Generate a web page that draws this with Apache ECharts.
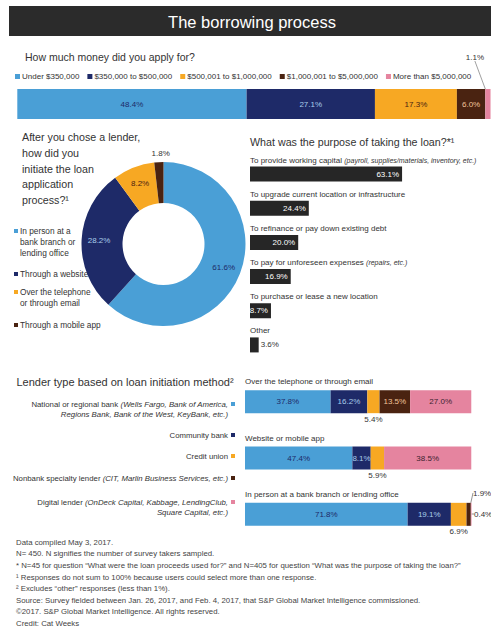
<!DOCTYPE html>
<html><head><meta charset="utf-8">
<script src="https://cdn.jsdelivr.net/npm/echarts@6/dist/echarts.min.js"></script>
<style>html,body{margin:0;padding:0;background:#fff}#c{width:491px;height:633px}</style>
</head><body><div id="c"></div>
<script>
// ---------------- data ----------------
const amountCategories = ['Under $350,000', '$350,000 to $500,000', '$500,001 to $1,000,000', '$1,000,001 to $5,000,000', 'More than $5,000,000'];
const amountValues = [48.4, 27.1, 17.3, 6.0, 1.1];

const initiationMethods = ['In person at a bank branch or lending office', 'Through a website', 'Over the telephone or through email', 'Through a mobile app'];
const initiationLegendLines = [['In person at a', 'bank branch or', 'lending office'], ['Through a website'], ['Over the telephone', 'or through email'], ['Through a mobile app']];
const initiationValues = [61.6, 28.2, 8.2, 1.8];

const purposeCategories = ['To provide working capital (payroll, supplies/materials, inventory, etc.)', 'To upgrade current location or infrastructure', 'To refinance or pay down existing debt', 'To pay for unforeseen expenses (repairs, etc.)', 'To purchase or lease a new location', 'Other'];
const purposeValues = [63.1, 24.4, 20.0, 16.9, 8.7, 3.6];

const methodCategories = ['Over the telephone or through email', 'Website or mobile app', 'In person at a bank branch or lending office'];
const lenderTypes = ['National or regional bank', 'Community bank', 'Credit union', 'Nonbank specialty lender', 'Digital lender'];
const lenderLabelLines = [
  ['National or regional bank |(Wells Fargo, Bank of America,', '|Regions Bank, Bank of the West, KeyBank, etc.)'],
  ['Community bank'],
  ['Credit union'],
  ['Nonbank specialty lender |(CIT, Marlin Business Services, etc.)'],
  ['Digital lender |(OnDeck Capital, Kabbage, LendingClub,', '|Square Capital, etc.)']
];
const nationalBank = [37.8, 47.4, 71.8];
const communityBank = [16.2, 8.1, 19.1];
const creditUnion = [5.4, 5.9, 6.9];
const nonbankLender = [13.5, 0, 1.9];
const digitalLender = [27.0, 38.5, 0.4];

const footnotes = [
  'Data compiled May 3, 2017.',
  'N= 450. N signifies the number of survey takers sampled.',
  '* N=45 for question \u201cWhat were the loan proceeds used for?\u201d and N=405 for question \u201cWhat was the purpose of taking the loan?\u201d',
  '\u00b9 Responses do not sum to 100% because users could select more than one response.',
  '\u00b2 Excludes \u201cother\u201d responses (less than 1%).',
  'Source: Survey fielded between Jan. 26, 2017, and Feb. 4, 2017, that S&P Global Market Intelligence commissioned.',
  '\u00a92017. S&P Global Market Intelligence. All rights reserved.',
  'Credit: Cat Weeks'
];

// ---------------- style ----------------
const FONT = '"Liberation Sans", Arial, sans-serif';
const COLORS = ['#4a9fd6', '#1e2a68', '#f7a823', '#4a2311', '#e5849f'];
const ON_COLORS = ['#1e2a68', '#a9cdea', '#4a2311', '#f3c49a', '#3b2330'];
const TXT = '#333';
const VAL = 8;
const pct = p => (p.value > 0 ? p.value.toFixed(1) + '%' : '');

function txt(x, y, text, size, extra) {
  return {
    type: 'text', x: x, y: y,
    style: Object.assign({ text: text, fontSize: size, fontFamily: FONT, fill: TXT,
      align: 'left', verticalAlign: 'middle', textAlign: 'left', textVerticalAlign: 'middle' }, extra || {})
  };
}

const graphics = [];
graphics.push({ type: 'rect', shape: { x: 9, y: 6, width: 482, height: 30 }, style: { fill: '#2b2b2b' } });
graphics.push(txt(252, 22, 'The borrowing process', 16.5, { fill: '#fff', align: 'center', textAlign: 'center' }));
graphics.push(txt(25, 57, 'How much money did you apply for?', 10.5));
graphics.push(txt(22, 129.5, 'After you chose a lender,\nhow did you\ninitiate the loan\napplication\nprocess?\u00b9', 10.7, { verticalAlign: 'top', textVerticalAlign: 'top', lineHeight: 15.7 }));
graphics.push(txt(250, 142, 'What was the purpose of taking the loan?*\u00b9', 10.7));
graphics.push(txt(16.5, 382, 'Lender type based on loan initiation method\u00b2', 11));

// donut legend
const pieLegendY = [231, 274, 292, 325];
initiationLegendLines.forEach((lines, i) => {
  const t = lines.map((l, k) => (k === 0 ? '{m|}' : '{e|}') + '{t|' + l + '}').join('\n');
  graphics.push({
    type: 'text', x: 14, y: pieLegendY[i] - 5.5,
    style: { text: t, align: 'left', verticalAlign: 'top', textAlign: 'left', textVerticalAlign: 'top',
      rich: {
        m: { backgroundColor: COLORS[i], width: 4, height: 4, verticalAlign: 'middle' },
        e: { width: 4, height: 4 },
        t: { fontSize: 8.3, fontFamily: FONT, fill: TXT, color: TXT, padding: [0, 0, 0, 2], lineHeight: 11 }
      } }
  });
});

// lender type labels (right aligned, marker at the end)
const lenderLabelY = [404, 435, 456, 478, 502];
lenderLabelLines.forEach((lines, i) => {
  const t = lines.map((l, k) => {
    const parts = l.split('|');
    let s = '';
    if (parts[0]) s += '{n|' + parts[0] + '}';
    if (parts[1]) s += '{i|' + parts[1] + '}';
    s += (k === 0 ? '{g|}{m|}' : '{g|}{e|}');
    return s;
  }).join('\n');
  graphics.push({
    type: 'text', x: 235, y: lenderLabelY[i] - 5.25,
    style: { text: t, align: 'right', verticalAlign: 'top', textAlign: 'right', textVerticalAlign: 'top',
      rich: {
        n: { fontSize: 7.8, fontFamily: FONT, fill: TXT, color: TXT, lineHeight: 10.5 },
        i: { fontSize: 7.8, fontFamily: FONT, fontStyle: 'italic', fill: TXT, color: TXT, lineHeight: 10.5 },
        g: { width: 3, height: 4 },
        m: { backgroundColor: COLORS[i], width: 4, height: 4, verticalAlign: 'middle' },
        e: { width: 4, height: 4 }
      } }
  });
});

graphics.push(txt(16, 536.5, footnotes.join('\n'), 7.8, { verticalAlign: 'top', textVerticalAlign: 'top', lineHeight: 11.6, fill: '#444' }));

// ---------------- series ----------------
const series = [];

// top stacked bar
amountCategories.forEach((name, i) => {
  const s = {
    type: 'bar', name: name, xAxisIndex: 0, yAxisIndex: 0, stack: 'amount', barWidth: 30,
    itemStyle: { color: COLORS[i] },
    label: { show: true, position: 'inside', formatter: pct, color: ON_COLORS[i], fontSize: VAL, fontFamily: FONT },
    data: [amountValues[i]]
  };
  if (i === 4) {
    s.label.color = TXT;
    s.labelLayout = { x: 484, y: 57, align: 'right', verticalAlign: 'middle' };
    s.labelLine = { show: true, lineStyle: { color: '#888', width: 0.8 } };
  }
  series.push(s);
});

// donut
series.push({
  type: 'pie', center: [163.5, 244], radius: [41, 82], startAngle: 90, clockwise: true,
  avoidLabelOverlap: false,
  label: { position: 'inside', formatter: pct, fontSize: VAL, fontFamily: FONT },
  labelLayout: p => (p.dataIndex === 3 ? { align: 'center', verticalAlign: 'bottom', dx: 2, dy: -2 } : null),
  data: initiationMethods.map((name, i) => {
    const d = { name: name, value: initiationValues[i], itemStyle: { color: COLORS[i] }, label: { color: ON_COLORS[i] } };
    if (i === 3) {
      d.label = { position: 'outside', color: TXT, distanceToLabelLine: 0 };
      d.labelLine = { show: false, length: 3, length2: 0 };
    }
    return d;
  })
});

// purpose bars
series.push({
  type: 'bar', xAxisIndex: 1, yAxisIndex: 1, barWidth: 15, itemStyle: { color: '#262626' },
  label: { show: true, position: 'insideRight', distance: 3, color: '#fff', fontSize: VAL, fontFamily: FONT, formatter: pct },
  data: purposeValues.map(v => (v < 5 ? { value: v, label: { position: 'right', color: TXT, distance: 2 } } : v))
});

// lender type stacked bars
const lenderData = [nationalBank, communityBank, creditUnion, nonbankLender, digitalLender];
lenderTypes.forEach((name, i) => {
  const s = {
    type: 'bar', name: name, xAxisIndex: 2, yAxisIndex: 2, stack: 'lender', barWidth: 23,
    itemStyle: { color: COLORS[i] },
    label: { show: true, position: 'inside', formatter: pct, color: ON_COLORS[i], fontSize: VAL, fontFamily: FONT },
    data: lenderData[i].map(v => {
      if (i === 2) return { value: v, label: { position: 'bottom', distance: 2, color: TXT } };
      if (v > 0 && v < 3) return { value: v, label: { color: TXT }, labelLine: { show: true, lineStyle: { color: '#777', width: 0.8 } } };
      return v;
    })
  };
  if (i === 3) s.labelLayout = p => (p.dataIndex === 2 ? { x: 473, y: 493, align: 'left', verticalAlign: 'middle' } : null);
  if (i === 4) s.labelLayout = p => (p.dataIndex === 2 ? { x: 474, y: 514, align: 'left', verticalAlign: 'middle' } : null);
  series.push(s);
});

const hiddenCat = { axisLine: { show: false }, axisTick: { show: false }, splitLine: { show: false } };

const option = {
  animation: false,
  backgroundColor: '#fff',
  textStyle: { fontFamily: FONT },
  legend: {
    data: amountCategories, left: 15, top: 72.5, width: 476, icon: 'rect', itemWidth: 5, itemHeight: 5, itemGap: 8,
    selectedMode: false, padding: 0,
    textStyle: { fontSize: 8, fontFamily: FONT, color: TXT, padding: [0, 0, 0, -3] }
  },
  grid: [
    { left: 17.3, top: 89, width: 475.2, height: 30, containLabel: false },
    { left: 250, top: 157, width: 380, height: 205, containLabel: false },
    { left: 245, top: 373.5, width: 226.5, height: 169, containLabel: false }
  ],
  xAxis: [
    { type: 'value', gridIndex: 0, min: 0, max: 100, show: false },
    { type: 'value', gridIndex: 1, min: 0, max: 100, show: false },
    { type: 'value', gridIndex: 2, min: 0, max: 100, show: false }
  ],
  yAxis: [
    { type: 'category', gridIndex: 0, data: ['Amount'], show: false },
    Object.assign({ type: 'category', gridIndex: 1, data: purposeCategories, inverse: true,
      axisLabel: { inside: true, margin: 0, interval: 0, align: 'left', verticalAlign: 'bottom', padding: [0, 0, 10, 0],
        fontSize: 8, fontFamily: FONT, color: TXT,
        formatter: v => { const k = v.indexOf('('); return k < 0 ? '{n|' + v + '}' : '{n|' + v.slice(0, k) + '}{i|' + v.slice(k) + '}'; },
        rich: { n: { fontSize: 8, fontFamily: FONT, color: TXT }, i: { fontSize: 7, fontFamily: FONT, fontStyle: 'italic', color: TXT } } } }, hiddenCat),
    Object.assign({ type: 'category', gridIndex: 2, data: methodCategories, inverse: true,
      axisLabel: { inside: true, margin: 0, interval: 0, align: 'left', verticalAlign: 'bottom', padding: [0, 0, 16, 0],
        fontSize: 8, fontFamily: FONT, color: TXT } }, hiddenCat)
  ],
  graphic: { elements: graphics },
  series: series
};

const chart = echarts.init(document.getElementById('c'), null, { renderer: 'svg', width: 491, height: 633 });
chart.setOption(option);
</script>
</body></html>
